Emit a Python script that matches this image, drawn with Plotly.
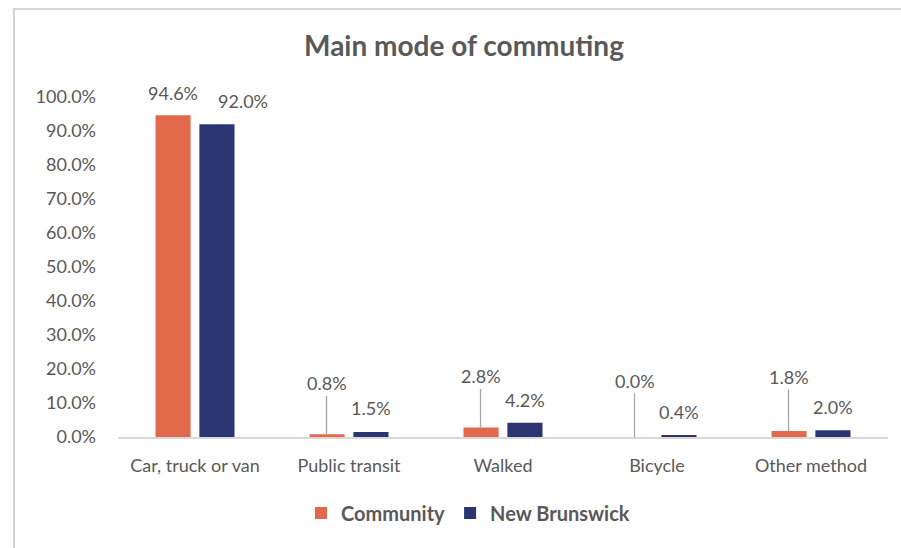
import plotly.graph_objects as go

categories = ["Car, truck or van", "Public transit", "Walked", "Bicycle", "Other method"]
community = [94.6, 0.8, 2.8, 0.0, 1.8]
new_brunswick = [92.0, 1.5, 4.2, 0.4, 2.0]
y_ticks = [0, 10, 20, 30, 40, 50, 60, 70, 80, 90, 100]
y_tick_labels = [f"{v:.1f}%" for v in y_ticks]

ORANGE = "#E2694B"
NAVY = "#2B3571"
TEXT = "#595959"
FONT = "Lato"

# pixel offsets of label centres relative to bar tops (style)
comm_label_off = [22, 51, 51, 56, 54]
comm_leader = [False, True, True, True, True]
nb_label_off = [23, 24, 23, 24, 23]
nb_label_xshift = [26, 0, 0, 0, 0]

fig = go.Figure()
fig.add_trace(go.Bar(x=categories, y=community, name="Community", marker_color=ORANGE,
                     marker_line_width=0))
fig.add_trace(go.Bar(x=categories, y=new_brunswick, name="New Brunswick", marker_color=NAVY,
                     marker_line_width=0))

annotations = []
off = 0.146
for i, v in enumerate(community):
    annotations.append(dict(
        x=i - off, y=v, xref="x", yref="y", text=f"{v:.1f}%",
        showarrow=True, arrowhead=0, arrowwidth=1.3,
        arrowcolor="#A6A6A6" if comm_leader[i] else "rgba(0,0,0,0)",
        ax=0, ay=-comm_label_off[i], standoff=0,
        font=dict(family=FONT, size=18, color=TEXT)))
for i, v in enumerate(new_brunswick):
    annotations.append(dict(
        x=i + off, y=v, xref="x", yref="y", text=f"{v:.1f}%",
        showarrow=False, yshift=nb_label_off[i], xshift=nb_label_xshift[i],
        font=dict(family=FONT, size=18, color=TEXT)))

fig.update_layout(
    width=901, height=548,
    margin=dict(l=118, r=13, t=97, b=111),
    paper_bgcolor="white", plot_bgcolor="white",
    barmode="group", bargap=0.43, bargroupgap=0.2,
    font=dict(family=FONT, size=18, color=TEXT),
    title=dict(text="<b>Main mode of commuting</b>", x=464/901, xanchor="center",
               xref="container", y=1 - 46/548, yanchor="middle",
               font=dict(family=FONT, size=28, color=TEXT)),
    xaxis=dict(showline=True, linecolor="#D9D9D9", linewidth=1.5, showgrid=False,
               ticks="", ticklabelstandoff=12, tickfont=dict(size=18, color=TEXT)),
    yaxis=dict(range=[0, 100], tickvals=y_ticks, ticktext=y_tick_labels, showgrid=False,
               showline=False, zeroline=False, ticks="", ticklabelstandoff=21,
               tickfont=dict(size=18, color=TEXT)),
    legend=dict(orientation="h", x=(468-118)/770, xanchor="center",
                y=(437-513)/340, yanchor="middle",
                font=dict(family=FONT, size=20, color=TEXT, weight="bold"),
                itemwidth=30, traceorder="normal"),
    annotations=annotations,
    shapes=[dict(type="rect", xref="paper", yref="paper",
                 x0=(14-118)/770, x1=(930-118)/770,
                 y0=(437-570)/340, y1=(437-9)/340,
                 line=dict(color="#D4D4D4", width=2), layer="below")],
)

fig.write_html("out.html", config={"displayModeBar": False},
               post_script="document.body.style.margin='0';document.body.style.overflow='hidden';")
